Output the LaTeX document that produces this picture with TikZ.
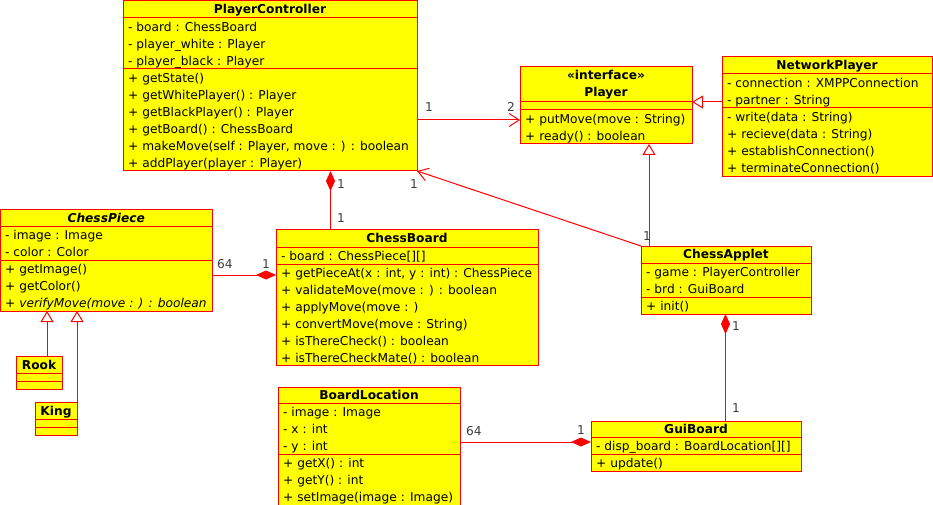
\documentclass[tikz,border=0pt]{standalone}
\usepackage{fontspec}
\setmainfont{DejaVu Sans}
\usetikzlibrary{arrows.meta}
\usetikzlibrary{positioning}

\definecolor{umlred}{RGB}{255,0,0}
\definecolor{umlyellow}{RGB}{255,255,0}
\definecolor{multgray}{RGB}{60,60,60}

\tikzset{
  classbox/.style={draw=umlred, fill=umlyellow, line width=1pt, anchor=north west,
    inner sep=0pt, outer sep=0pt},
  title/.style={anchor=base, inner sep=0pt, font=\fontsize{12.2}{17}\selectfont\bfseries},
  member/.style={anchor=base west, inner sep=0pt, font=\fontsize{12.2}{17}\selectfont},
  mult/.style={anchor=base west, inner sep=0pt, text=multgray, font=\fontsize{12.2}{17}\selectfont},
  assoc/.style={draw=umlred, line width=1pt, -{Straight Barb[length=10pt,width=13pt]}},
  gen/.style={draw=umlred, line width=1pt, -{Triangle[open,length=11pt,width=13pt,fill=white]}},
  comp/.style={draw=umlred, line width=1pt, {Diamond[length=20pt,width=9pt]}-},
  compend/.style={draw=umlred, line width=1pt, -{Diamond[length=20pt,width=9pt]}}
}

% name, left, top, width, head, attributes, methods
\newcommand\umlclass[7]{%
  \node[classbox, minimum width=#4pt, minimum height=#5pt+#6pt+#7pt] (#1) at (#2,#3) {};
  \draw[umlred, line width=1pt] ([yshift=-#5pt]#1.north west) -- ([yshift=-#5pt]#1.north east);
  \draw[umlred, line width=1pt] ([yshift=-#5pt-#6pt]#1.north west) -- ([yshift=-#5pt-#6pt]#1.north east);
}
% prefix, x, first baseline, lines
\newcommand\umlrows[4]{%
  \foreach \entry [count=\i from 0] in {#4}
    \node[member] (#1\i) at (#2,#3+17*\i) {\entry};
}

\begin{document}
\begin{tikzpicture}[x=1pt, y=-1pt]
  \useasboundingbox (0,0) rectangle (933,505);

  % PlayerController
  \umlclass{pc}{123}{1}{294}{17}{51}{102}
  \node[title] (pc-t) at ([yshift=-12.5pt]pc.north) {PlayerController};
  \umlrows{pc-a}{128}{31.5}{- board : ChessBoard, - player\_white : Player, - player\_black : Player}
  \umlrows{pc-m}{128}{82.5}{+ getState(), + getWhitePlayer() : Player, + getBlackPlayer() : Player,
    + getBoard() : ChessBoard, {+ makeMove(self : Player, move : ) : boolean}, + addPlayer(player : Player)}

  % Player
  \umlclass{player}{520}{67}{172}{35}{8}{34}
  \node[title] (player-t1) at ([yshift=-12.5pt]player.north) {«interface»};
  \node[title] (player-t2) at ([yshift=-29.5pt]player.north) {Player};
  \umlrows{player-m}{525}{123.5}{+ putMove(move : String), + ready() : boolean}

  % NetworkPlayer
  \umlclass{network}{722}{57}{210}{17}{34}{68}
  \node[title] (network-t) at ([yshift=-12.5pt]network.north) {NetworkPlayer};
  \umlrows{network-a}{727}{87.5}{- connection : XMPPConnection, - partner : String}
  \umlrows{network-m}{727}{121.5}{- write(data : String), + recieve(data : String),
    + establishConnection(), + terminateConnection()}

  % ChessPiece
  \umlclass{piece}{0.5}{209}{211.5}{17}{34}{51}
  \node[title] (piece-t) at ([yshift=-13pt]piece.north) {\itshape ChessPiece};
  \umlrows{piece-a}{5}{239.5}{- image : Image, - color : Color}
  \umlrows{piece-m}{5}{273.5}{+ getImage(), + getColor(), {\itshape + verifyMove(move : ) : boolean}}

  % Rook, King
  \umlclass{rook}{16}{356}{46}{17}{8}{8}
  \node[title] (rook-t) at ([yshift=-13pt]rook.north) {Rook};
  \umlclass{king}{35}{402}{42}{17}{8}{8}
  \node[title] (king-t) at ([yshift=-13pt]king.north) {King};

  % ChessBoard
  \umlclass{board}{276}{229}{262}{18}{17}{101}
  \node[title] (board-t) at ([yshift=-13.5pt]board.north) {ChessBoard};
  \umlrows{board-a}{281}{260.5}{- board : ChessPiece[][]}
  \umlrows{board-m}{281}{277.5}{{+ getPieceAt(x : int, y : int) : ChessPiece}, + validateMove(move : ) : boolean,
    + applyMove(move : ), + convertMove(move : String), + isThereCheck() : boolean,
    + isThereCheckMate() : boolean}

  % ChessApplet
  \umlclass{applet}{641}{246}{170}{17}{34}{17}
  \node[title] (applet-t) at ([yshift=-12.5pt]applet.north) {ChessApplet};
  \umlrows{applet-a}{646}{276.5}{- game : PlayerController, - brd : GuiBoard}
  \umlrows{applet-m}{646}{310.5}{+ init()}

  % BoardLocation
  \umlclass{location}{278}{387}{182}{16}{51}{60}
  \node[title] (location-t) at ([yshift=-12.5pt]location.north) {BoardLocation};
  \umlrows{location-a}{283}{416.5}{- image : Image, - x : int, - y : int}
  \umlrows{location-m}{283}{467.5}{+ getX() : int, + getY() : int, + setImage(image : Image)}

  % GuiBoard
  \umlclass{gui}{591}{421}{210}{16}{17}{17}
  \node[title] (gui-t) at ([yshift=-12.5pt]gui.north) {GuiBoard};
  \umlrows{gui-a}{596}{450.5}{- disp\_board : BoardLocation[][]}
  \umlrows{gui-m}{596}{467.5}{+ update()}

  % connectors
  \draw[assoc] ([yshift=-119pt]pc.north east) -- ([yshift=-53pt]player.north west);
  \draw[gen] ([yshift=-45pt]network.north west) -- ([yshift=-45pt]network.north west -| player.east);
  \draw[gen] ([xshift=8pt]applet.north west) -- ([xshift=8pt]applet.north west |- player.south);
  \draw[assoc] (applet.north west) -- (pc.south east);
  \draw[comp] ([xshift=60.5pt]pc.south) -- ([xshift=60.5pt]pc.south |- board.north);
  \draw[compend] ([yshift=-66pt]piece.north east) -- ([yshift=-66pt]piece.north east -| board.west);
  \draw[comp] ([xshift=84.5pt]applet.south west) -- ([xshift=84.5pt]applet.south west |- gui.north);
  \draw[compend] ([yshift=-21pt]gui.north west -| location.east) -- ([yshift=-21pt]gui.north west);
  \draw[gen] ([xshift=31pt]rook.north west) -- ([xshift=31pt]rook.north west |- piece.south);
  \draw[gen] (king.north east) -- (king.north east |- piece.south);

  % multiplicities
  \node[mult] (m1) at (425,112) {1};
  \node[mult] (m2) at (507,112) {2};
  \node[mult] (m3) at (410,189) {1};
  \node[mult] (m4) at (643,240) {1};
  \node[mult] (m5) at (337,188) {1};
  \node[mult] (m6) at (337,222) {1};
  \node[mult] (m7) at (217,268) {64};
  \node[mult] (m8) at (262,268) {1};
  \node[mult] (m9) at (732,330) {1};
  \node[mult] (m10) at (732,412) {1};
  \node[mult] (m11) at (466,435) {64};
  \node[mult] (m12) at (577,434) {1};
\end{tikzpicture}
\end{document}
